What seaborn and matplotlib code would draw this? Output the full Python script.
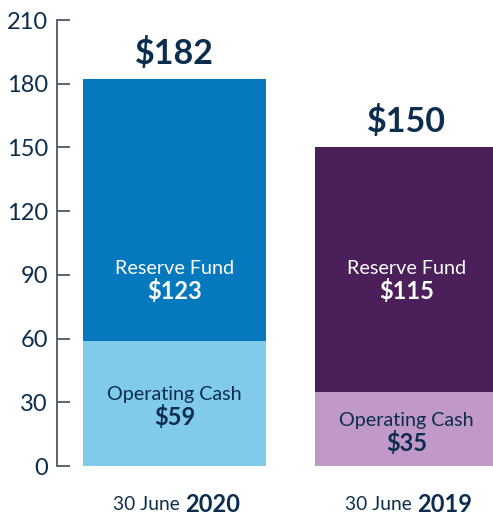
import matplotlib.pyplot as plt
import pandas as pd
import seaborn as sns

# values (in $ millions)
periods = ['2020', '2019']
operating_cash = [59, 35]
reserve_fund = [123, 115]
y_ticks = [0, 30, 60, 90, 120, 150, 180, 210]

reserve_colors = {'2020': '#0578BE', '2019': '#4B1F5A'}
operating_colors = {'2020': '#80CBEA', '2019': '#C199C9'}
navy = '#0C2D4E'


def main():
    sns.set_style('white')
    plt.rcParams['font.family'] = ['Lato', 'DejaVu Sans']

    df = pd.DataFrame({'period': periods,
                       'operating': operating_cash,
                       'reserve': reserve_fund})
    df['total'] = df['operating'] + df['reserve']

    fig = plt.figure(figsize=(4.93, 5.17), dpi=100)
    ax = fig.add_axes([0.1156, 0.0986, 0.8844, 0.8627])

    # full height in reserve colour, operating cash drawn over the bottom
    sns.barplot(x='period', y='total', hue='period', data=df, ax=ax,
                palette=reserve_colors, width=0.79, legend=False,
                saturation=1, linewidth=0)
    sns.barplot(x='period', y='operating', hue='period', data=df, ax=ax,
                palette=operating_colors, width=0.79, legend=False,
                saturation=1, linewidth=0)

    ax.set_xlim(-0.506, 1.373)
    ax.set_ylim(0, 210)
    ax.set_yticks(y_ticks)
    ax.set_xlabel('')
    ax.set_ylabel('')
    ax.set_xticks([])

    for side in ['top', 'right', 'bottom']:
        ax.spines[side].set_visible(False)
    ax.spines['left'].set_color('#4A5868')
    ax.spines['left'].set_linewidth(1.3)
    ax.tick_params(axis='y', direction='in', length=9.4, width=1.3,
                   color='#4A5868', labelsize=17, labelcolor=navy, pad=6.5,
                   left=True)

    for i, row in df.iterrows():
        # total on top
        ax.annotate(f"${row['total']}", (i, row['total']),
                    xytext=(0, 7), textcoords='offset points',
                    ha='center', va='bottom', fontsize=24.5,
                    fontweight='bold', color=navy)
        # reserve fund label
        ax.text(i, 89, 'Reserve Fund', ha='center', va='bottom',
                fontsize=14.2, color='white')
        ax.text(i, 88, f"${row['reserve']}", ha='center', va='top',
                fontsize=17, fontweight='bold', color='white')
        # operating cash label
        mid = row['operating'] / 2
        ax.text(i, mid, 'Operating Cash', ha='center', va='bottom',
                fontsize=14.2, color=navy)
        ax.text(i, mid - 1, f"${row['operating']}", ha='center', va='top',
                fontsize=17, fontweight='bold', color=navy)
        # category label
        ax.text(i + 0.045, -18, '30 June ', ha='right', va='center',
                fontsize=13.8, color=navy)
        ax.text(i + 0.045, -18, row['period'], ha='left', va='center',
                fontsize=17, fontweight='bold', color=navy)

    fig.savefig('out.png', dpi=100)


if __name__ == '__main__':
    main()
